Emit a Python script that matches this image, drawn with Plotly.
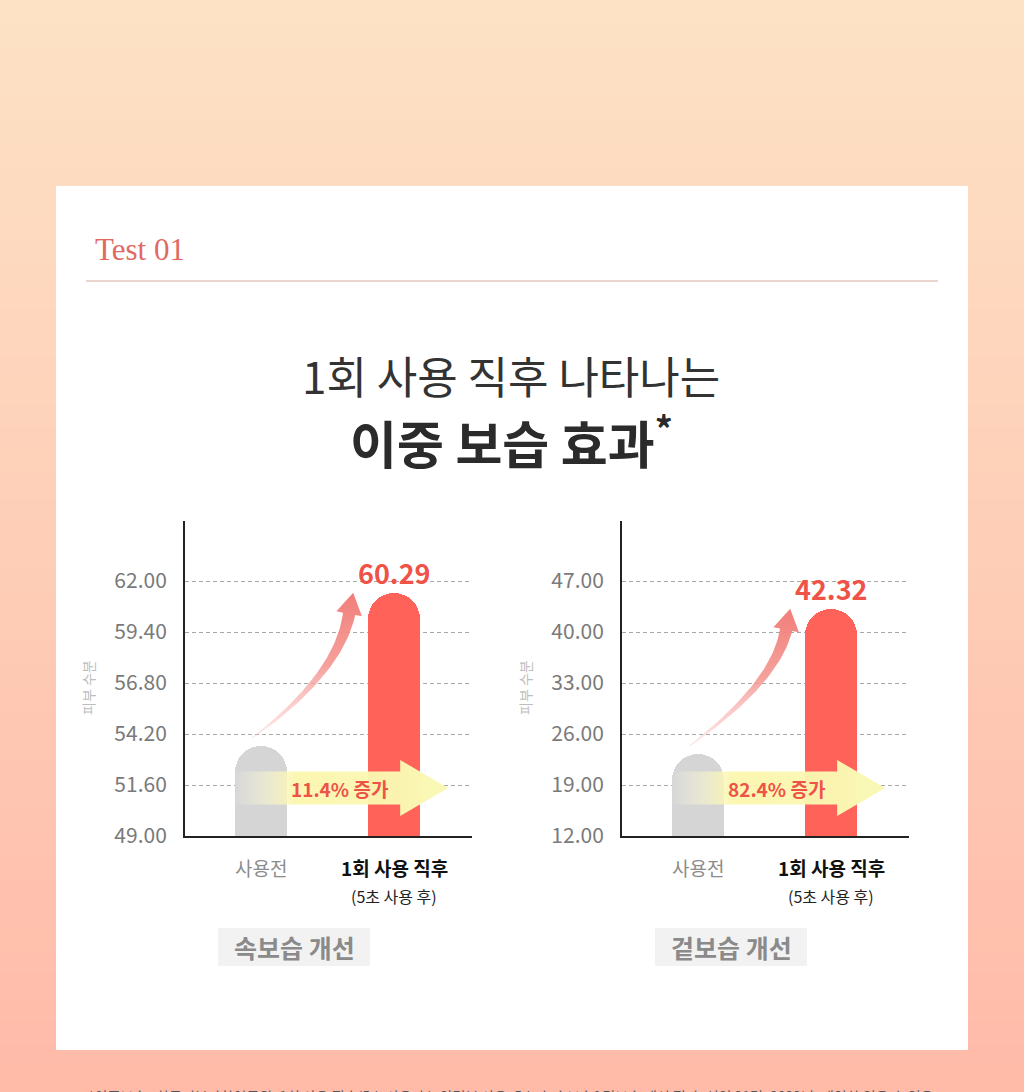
import numpy as np
import plotly.graph_objects as go

W, H = 1024, 1092
KR = "Noto Sans CJK KR"

# ---------------- data ----------------
categories = ["사용전", "1회 사용 직후"]
category_sub = ["", "(5초 사용 후)"]
panel_titles = ["속보습 개선", "겉보습 개선"]
y_title = "피부 수분"
inner_values = [53.6, 61.4]        # 속보습 bars (as drawn)
outer_values = [23.25, 43.2]       # 겉보습 bars (as drawn)
value_labels = ["60.29", "42.32"]
increase_labels = ["11.4% 증가", "82.4% 증가"]
inner_ticks = [49.0, 51.6, 54.2, 56.8, 59.4, 62.0]
outer_ticks = [12.0, 19.0, 26.0, 33.0, 40.0, 47.0]
title_line1 = "1회 사용 직후 나타나는"
title_line2 = "이중 보습 효과"
section_label = "Test 01"
footnote = ("*이중보습 : 한국피부과학연구원, 1회 사용 직후(5초 사용 후), 안면부 사용, "
            "5초 후 속보습&겉보습 개선 평가, 성인 21명, 2023년, 개인차 있을 수 있음")

# ---------------- layout geometry (pixels) ----------------
XR = [-0.575, 1.586]
panels = [
    dict(x0=185, x1=472, yt=521, yb=836, xrange=XR, yrange=[49.0, 65.06],
         values=inner_values, ticks=inner_ticks, xa="x", ya="y", title=panel_titles[0],
         label=value_labels[0], inc=increase_labels[0]),
    dict(x0=622, x1=909, yt=521, yb=836, xrange=XR, yrange=[12.0, 55.24],
         values=outer_values, ticks=outer_ticks, xa="x2", ya="y2", title=panel_titles[1],
         label=value_labels[1], inc=increase_labels[1]),
]
BAR_W = 0.39
GRAY = "#d5d5d5"
RED = "#ff6258"
CORAL = "#ef5247"


def to_data(p, px, py):
    xr, yr = p["xrange"], p["yrange"]
    xd = xr[0] + (np.asarray(px) - p["x0"]) / (p["x1"] - p["x0"]) * (xr[1] - xr[0])
    yd = yr[0] + (p["yb"] - np.asarray(py)) / (p["yb"] - p["yt"]) * (yr[1] - yr[0])
    return xd, yd


def to_px(p, xd, yd):
    xr, yr = p["xrange"], p["yrange"]
    px = p["x0"] + (xd - xr[0]) / (xr[1] - xr[0]) * (p["x1"] - p["x0"])
    py = p["yb"] - (yd - yr[0]) / (yr[1] - yr[0]) * (p["yb"] - p["yt"])
    return px, py


def curved_arrow_px(T, P):
    T = np.array(T, float)
    P = np.array(P, float)
    B = P + np.array([-4.0, 21.0])
    C = np.array([B[0] - 11.0, T[1] - 63.0])
    t = np.linspace(0, 1, 50)
    pts = ((1 - t) ** 2)[:, None] * T + (2 * (1 - t) * t)[:, None] * C + (t ** 2)[:, None] * B
    der = (2 * (1 - t))[:, None] * (C - T) + (2 * t)[:, None] * (B - C)
    der /= np.linalg.norm(der, axis=1)[:, None]
    nrm = np.stack([-der[:, 1], der[:, 0]], axis=1)
    w = 0.6 + 5.6 * t
    left = pts + nrm * w[:, None]
    right = pts - nrm * w[:, None]
    d = (P - B) / np.linalg.norm(P - B)
    perp = np.array([-d[1], d[0]])
    hl = B + perp * 13
    hr = B - perp * 13
    poly = np.vstack([left, hl[None], P[None], hr[None], right[::-1], left[:1]])
    return poly[:, 0], poly[:, 1]


def pap(px, py):
    return px / W, 1 - py / H


def txt(px, py, text, size, color, family=KR, **kw):
    x, y = pap(px, py)
    d = dict(x=x, y=y, xref="paper", yref="paper", text=text, showarrow=False,
             xanchor="center", yanchor="middle", font=dict(family=family, size=size, color=color))
    d.update(kw)
    return d


fig = go.Figure()

# ---------------- background gradient + card ----------------
shapes = []
N = 46
top_c = np.array([253, 226, 198])
bot_c = np.array([255, 186, 168])
for i in range(N):
    f = (i + 0.5) / N
    c = top_c + (bot_c - top_c) * f
    shapes.append(dict(type="rect", xref="paper", yref="paper", layer="below",
                       x0=0, x1=1, y0=1 - (i + 1) / N - 0.002, y1=1 - i / N,
                       fillcolor=f"rgb({c[0]:.0f},{c[1]:.0f},{c[2]:.0f})", line_width=0))
shapes.append(dict(type="rect", xref="paper", yref="paper", layer="below",
                   x0=56 / W, x1=968 / W, y0=1 - 1050 / H, y1=1 - 186 / H,
                   fillcolor="white", line_width=0))
shapes.append(dict(type="line", xref="paper", yref="paper", layer="below",
                   x0=86 / W, x1=938 / W, y0=1 - 281 / H, y1=1 - 281 / H,
                   line=dict(color="#d9aaa3", width=1.2)))

annotations = []

for k, p in enumerate(panels):
    xa, ya = p["xa"], p["ya"]
    vals = p["values"]
    fig.add_trace(go.Bar(x=[0, 1], y=vals, width=BAR_W, xaxis=xa, yaxis=ya,
                         marker=dict(color=[GRAY, RED], cornerradius="50%", line_width=0),
                         hoverinfo="skip", showlegend=False))
    gx, gy = to_px(p, 0, vals[0])
    rx, ry = to_px(p, 1, vals[1])
    # curved pink arrow
    ax_px, ay_px = curved_arrow_px((gx - 9, gy - 8), (rx - 41, ry))
    dx, dy = to_data(p, ax_px, ay_px)
    fig.add_trace(go.Scatter(x=dx, y=dy, xaxis=xa, yaxis=ya, mode="lines", line_width=0,
                             fill="toself",
                             fillgradient=dict(type="vertical",
                                               colorscale=[[0, "rgba(250,200,196,0.4)"],
                                                           [0.5, "rgba(244,150,145,0.9)"],
                                                           [1, "rgba(241,122,117,0.97)"]]),
                             hoverinfo="skip", showlegend=False))
    # yellow horizontal arrow
    half_bar_px = BAR_W / (XR[1] - XR[0]) * (p["x1"] - p["x0"]) / 2
    xL = gx - half_bar_px
    xHd = rx + 6
    xT = rx + 54
    yc = p["yb"] - 48
    ypx = [yc - 16.5, yc - 16.5, yc - 28, yc, yc + 28, yc + 16.5, yc + 16.5, yc - 16.5]
    xpx = [xL, xHd, xHd, xT, xHd, xHd, xL, xL]
    dx, dy = to_data(p, xpx, ypx)
    fig.add_trace(go.Scatter(x=dx, y=dy, xaxis=xa, yaxis=ya, mode="lines", line_width=0,
                             fill="toself",
                             fillgradient=dict(type="horizontal",
                                               colorscale=[[0, "rgba(255,255,235,0.05)"],
                                                           [0.28, "rgba(251,246,172,0.92)"],
                                                           [1, "rgba(250,248,182,1)"]]),
                             hoverinfo="skip", showlegend=False))
    # increase text
    tx, ty = to_data(p, (gx + rx) / 2 + 12, yc)
    annotations.append(dict(x=float(tx), y=float(ty), xref=xa, yref=ya, text=f"<b>{p['inc']}</b>",
                            showarrow=False, xanchor="center", yanchor="middle",
                            font=dict(family=KR, size=19, color=CORAL)))
    # value label
    annotations.append(dict(x=1, y=vals[1], xref=xa, yref=ya, text=f"<b>{p['label']}</b>",
                            showarrow=False, yshift=20, xanchor="center", yanchor="middle",
                            font=dict(family=KR, size=27, color=CORAL)))
    # category labels
    annotations.append(dict(x=0, y=1 - 867 / H, xref=xa, yref="paper", text=categories[0],
                            showarrow=False, xanchor="center", yanchor="middle",
                            font=dict(family=KR, size=19, color="#8c8c8c")))
    annotations.append(dict(x=1, y=1 - 867 / H, xref=xa, yref="paper",
                            text=f"<b>{categories[1]}</b>", xanchor="center", yanchor="middle",
                            showarrow=False, font=dict(family=KR, size=19, color="#111")))
    annotations.append(dict(x=1, y=1 - 896 / H, xref=xa, yref="paper", text=category_sub[1],
                            showarrow=False, xanchor="center", yanchor="middle",
                            font=dict(family=KR, size=16, color="#222")))
    # y title
    annotations.append(txt(p["x0"] - 97, 688, y_title, 14, "#bdbdbd", textangle=-90))
    # panel title box
    bx0, bx1 = p["x0"] + 33, p["x0"] + 185
    shapes.append(dict(type="rect", xref="paper", yref="paper", layer="below",
                       x0=bx0 / W, x1=bx1 / W,
                       y0=1 - 966 / H, y1=1 - 928 / H, fillcolor="#f2f2f2", line_width=0))
    annotations.append(txt((bx0 + bx1) / 2, 947, f"<b>{p['title']}</b>", 25, "#8a8a8a"))

# ---------------- header texts ----------------
annotations += [
    txt(93, 250, section_label, 31, "#e06a62", family="Liberation Serif", xanchor="left"),
    txt(511, 375, title_line1, 44, "#333333"),
    txt(511, 440, f"<b>{title_line2}</b><sup><b>*</b></sup>", 51, "#2b2b2b"),
    txt(511, 1084, footnote, 14, "#555555", yanchor="top"),
]


def xaxis_cfg(p):
    return dict(domain=[p["x0"] / W, p["x1"] / W], range=p["xrange"], showgrid=False,
                zeroline=False, showline=True, linecolor="#222", linewidth=2,
                showticklabels=False, ticks="", fixedrange=True)


def yaxis_cfg(p):
    return dict(domain=[1 - p["yb"] / H, 1 - p["yt"] / H], range=p["yrange"],
                tickvals=p["ticks"], ticktext=[f"{v:.2f}" for v in p["ticks"]],
                showgrid=True, gridcolor="#a8a8a8", griddash="4px,3px", gridwidth=1,
                showline=True, linecolor="#222", linewidth=2, zeroline=False,
                ticks="outside", ticklen=12, tickcolor="rgba(0,0,0,0)",
                tickfont=dict(family=KR, size=21, color="#7a7a7a"), fixedrange=True)


fig.update_layout(
    width=W, height=H, margin=dict(l=0, r=0, t=0, b=0, pad=0, autoexpand=False),
    paper_bgcolor="#ffd0b6", plot_bgcolor="rgba(0,0,0,0)",
    xaxis=dict(xaxis_cfg(panels[0]), anchor="y"), yaxis=dict(yaxis_cfg(panels[0]), anchor="x"),
    xaxis2=dict(xaxis_cfg(panels[1]), anchor="y2"), yaxis2=dict(yaxis_cfg(panels[1]), anchor="x2"),
    shapes=shapes, annotations=annotations, showlegend=False, bargap=0,
    font=dict(family=KR),
)

# remove the default 8px body margin so the 1024x1092 figure fills the page exactly
page_js = "document.body.style.margin='0';"

fig.write_html("out.html", config={"displayModeBar": False}, post_script=page_js)
